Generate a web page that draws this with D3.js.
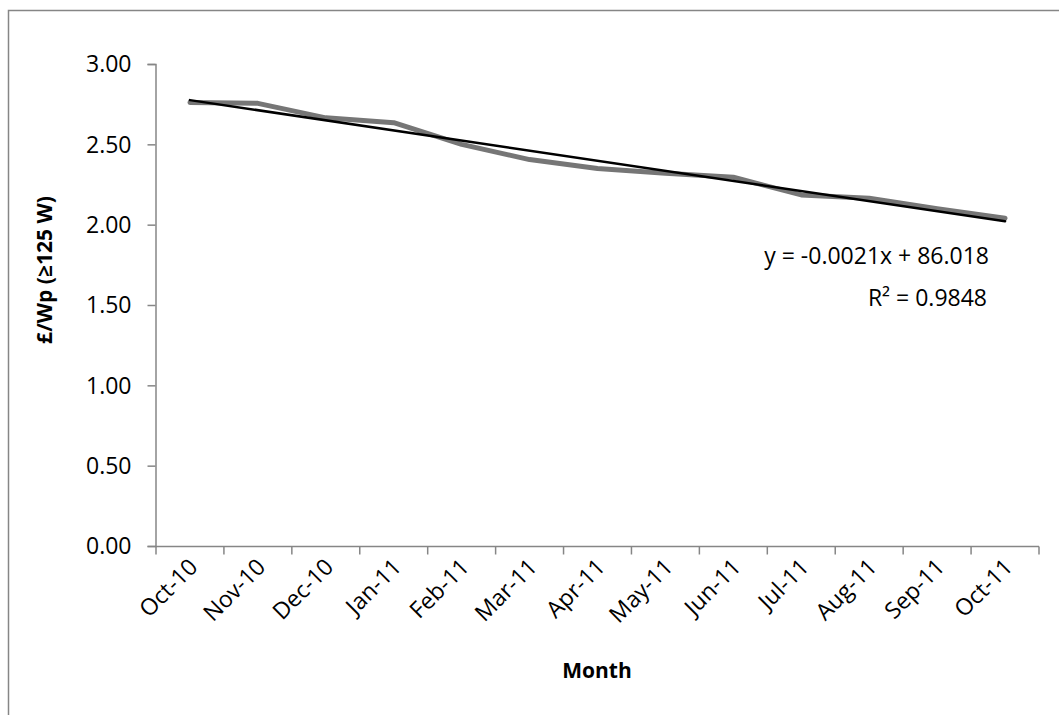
<!DOCTYPE html>
<html><head><meta charset="utf-8">
<script src="https://cdn.jsdelivr.net/npm/d3@7"></script>
<style>
html,body{margin:0;padding:0;background:#fff;}
svg{display:block;font-family:"Open Sans",sans-serif;}
</style></head>
<body>
<svg id="c" width="1059" height="715"></svg>
<script>
const months = ["Oct-10","Nov-10","Dec-10","Jan-11","Feb-11","Mar-11","Apr-11","May-11","Jun-11","Jul-11","Aug-11","Sep-11","Oct-11"];
const prices = [2.76, 2.755, 2.665, 2.635, 2.50, 2.405, 2.35, 2.32, 2.295, 2.185, 2.165, 2.10, 2.04];
const yTicks = [0, 0.5, 1, 1.5, 2, 2.5, 3];
const equationText = "y = -0.0021x + 86.018";
const r2Text = "R² = 0.9848";
const yTitle = "£/Wp (≥125 W)";
const xTitle = "Month";

const svg = d3.select("#c");
const axisColor = "#868686";

svg.append("rect").attr("x",8.5).attr("y",10.5).attr("width",1080).attr("height",720)
  .attr("fill","none").attr("stroke",axisColor).attr("stroke-width",1.5);

const x = d3.scaleBand().domain(months).range([156,1039]).padding(0);
const y = d3.scaleLinear().domain([0,3]).range([546,64]);
const cx = d => x(d) + x.bandwidth()/2;

// y axis
const ya = svg.append("g").attr("transform","translate(155.5,0)")
  .call(d3.axisLeft(y).tickValues(yTicks).tickFormat(d3.format(".2f")).tickSize(8).tickPadding(16));
ya.select(".domain").attr("stroke",axisColor).attr("stroke-width",1.5);
ya.selectAll(".tick line").attr("stroke",axisColor).attr("stroke-width",1.5);
ya.selectAll(".tick text").attr("font-size",23).attr("fill","#000").attr("font-family","Open Sans").attr("dy","0.34em");

// x axis line + ticks at category boundaries
const xa = svg.append("g").attr("transform","translate(0,546.5)");
xa.append("line").attr("x1",x.range()[0]-1).attr("x2",x.range()[1]).attr("y1",0).attr("y2",0)
  .attr("stroke",axisColor).attr("stroke-width",1.5);
const bounds = months.map(m => x(m)).concat([x.range()[1]]);
xa.selectAll("line.t").data(bounds).enter().append("line").attr("class","t")
  .attr("x1",d=>d).attr("x2",d=>d).attr("y1",0).attr("y2",8)
  .attr("stroke",axisColor).attr("stroke-width",1.5);
xa.selectAll("text").data(months).enter().append("text")
  .attr("transform",d=>`translate(${cx(d)+9},${22}) rotate(-45)`)
  .attr("text-anchor","end").attr("font-size",23).attr("fill","#000")
  .text(d=>d);

// data line
const line = d3.line().x((d,i)=>cx(months[i])).y(d=>y(d));
svg.append("path").datum(prices).attr("d",line).attr("fill","none")
  .attr("stroke","#767676").attr("stroke-width",5).attr("stroke-linejoin","round").attr("stroke-linecap","round");

// linear trendline (least squares on month index)
const n = prices.length;
const idx = d3.range(n);
const mx = d3.mean(idx), my = d3.mean(prices);
const slope = d3.sum(idx, i => (i-mx)*(prices[i]-my)) / d3.sum(idx, i => (i-mx)*(i-mx));
const inter = my - slope*mx;
const trend = [0, n-1].map(i => [cx(months[i]), y(inter + slope*i)]);
svg.append("path").attr("d", d3.line()(trend)).attr("fill","none")
  .attr("stroke","#000").attr("stroke-width",2.5).attr("stroke-linecap","round");

// equation labels
svg.append("text").attr("x",989).attr("y",264).attr("text-anchor","end")
  .attr("font-size",23).text(equationText);
svg.append("text").attr("x",987).attr("y",306).attr("text-anchor","end")
  .attr("font-size",23).text(r2Text);

// axis titles
svg.append("text").attr("x",597).attr("y",678).attr("text-anchor","middle")
  .attr("font-size",21).attr("font-weight","bold").text(xTitle);
svg.append("text").attr("transform","translate(52,270) rotate(-90)").attr("text-anchor","middle")
  .attr("font-size",21).attr("font-weight","bold").text(yTitle);
</script>
</body></html>
